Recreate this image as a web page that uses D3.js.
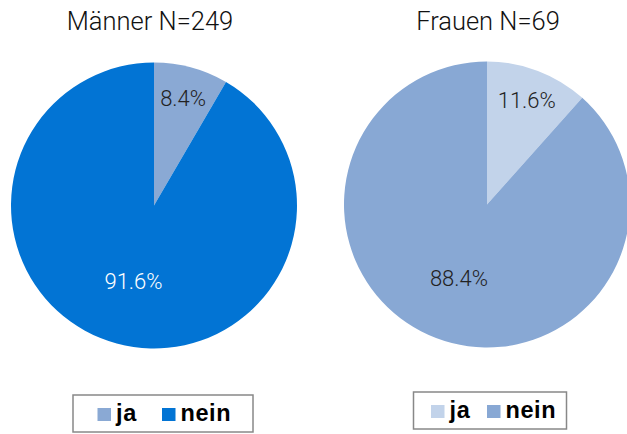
<!DOCTYPE html>
<html>
<head>
<meta charset="utf-8">
<script src="https://cdn.jsdelivr.net/npm/d3@7"></script>
<style>
  body { margin: 0; background: #fff; }
  svg { display: block; }
</style>
</head>
<body>
<div id="chart"></div>
<script>
  ////////////////////////////////// Data //////////////////////////////////
  var categories = ["ja", "nein"]
  var groups = ["Männer N=249", "Frauen N=69"]
  var maennerValues = [8.4, 91.6]
  var frauenValues = [11.6, 88.4]

  ///////////////////////////////// Globals /////////////////////////////////
  var width = 627, height = 434
  var radius = 143
  var pies = [
    { title: groups[0], values: maennerValues, cx: 154, cy: 205.5, titleX: 150,
      colors: ["#8aa9d4", "#0274d4"], labelColors: ["#222", "#fff"],
      legend: { x: 73, y: 395, w: 180, h: 37, items: [24.5, 89] } },
    { title: groups[1], values: frauenValues, cx: 487, cy: 204.5, titleX: 488,
      colors: ["#c2d3ea", "#88a8d4"], labelColors: ["#222", "#222"],
      legend: { x: 413.5, y: 392, w: 153, h: 37, items: [17.5, 73.5] } }
  ]

  var svg = d3.select("#chart").append("svg")
    .attr("width", width)
    .attr("height", height)

  var pie = d3.pie().sort(null).value(d => d)
  var arc = d3.arc().innerRadius(0).outerRadius(radius)

  pies.forEach(function (p) {
    var g = svg.append("g")

    // title
    g.append("text")
      .attr("x", p.titleX)
      .attr("y", 30)
      .attr("text-anchor", "middle")
      .style("font-family", "Roboto, 'Liberation Sans', sans-serif")
      .style("font-weight", 300)
      .style("font-size", "25.5px")
      .style("fill", "#111")
      .text(p.title)

    var slices = g.append("g")
      .attr("transform", "translate(" + p.cx + "," + p.cy + ")")

    var arcs = pie(p.values)

    slices.selectAll("path")
      .data(arcs)
      .enter().append("path")
      .attr("d", arc)
      .style("fill", (d, i) => p.colors[i])

    // labels: small slices further out, large ones nearer the centre
    slices.selectAll("text")
      .data(arcs)
      .enter().append("text")
      .attr("transform", function (d) {
        var r = (d.endAngle - d.startAngle) < Math.PI ? radius * 0.78 : radius * 0.55
        var c = d3.arc().innerRadius(r).outerRadius(r).centroid(d)
        return "translate(" + c[0] + "," + c[1] + ")"
      })
      .attr("text-anchor", "middle")
      .attr("dy", "0.36em")
      .style("font-family", "Roboto, 'Liberation Sans', sans-serif")
      .style("font-weight", 300)
      .style("font-size", "22px")
      .style("fill", (d, i) => p.labelColors[i])
      .text(d => d.data.toFixed(1) + "%")

    // legend
    var lg = g.append("g")
      .attr("transform", "translate(" + p.legend.x + "," + p.legend.y + ")")

    lg.append("rect")
      .attr("width", p.legend.w)
      .attr("height", p.legend.h)
      .style("fill", "#fff")
      .style("stroke", "#888")
      .style("stroke-width", 1.5)

    var items = lg.selectAll("g.item")
      .data(categories)
      .enter().append("g")
      .attr("class", "item")
      .attr("transform", (d, i) => "translate(" + p.legend.items[i] + ",0)")

    items.append("rect")
      .attr("y", 13)
      .attr("width", 13.5)
      .attr("height", 13)
      .style("fill", (d, i) => p.colors[i])

    items.append("text")
      .attr("x", 18.5)
      .attr("y", 26)
      .style("font-family", "'Liberation Sans', Arial, sans-serif")
      .style("font-weight", "bold")
      .style("font-size", "23.5px")
      .style("letter-spacing", "0.6px")
      .style("fill", "#000")
      .text(d => d)
  })
</script>
</body>
</html>
